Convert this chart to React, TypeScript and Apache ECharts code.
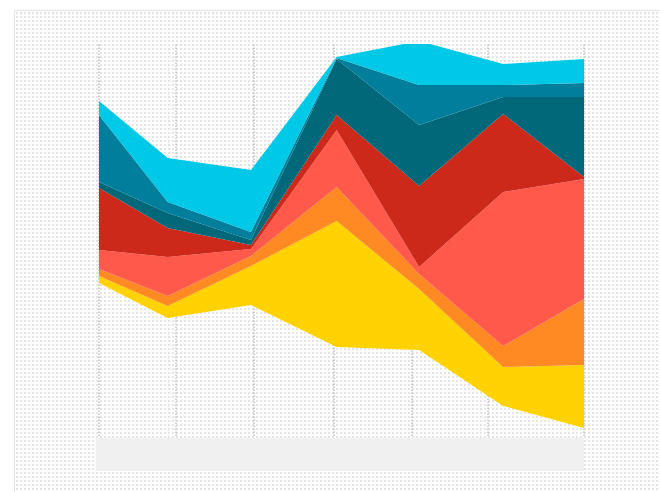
import React, { useEffect, useRef } from "react";
import * as echarts from "echarts";

// x positions of the vertices (axis units 0..6)
const xs = [0, 0.85, 1.88, 2.94, 3.96, 5.0, 6.0];
// vertical guide lines (axis units)
const guideX = [0, 0.95, 1.92, 2.91, 3.87, 4.81, 6];

// invisible baseline of the stream
const baseline = [153, 118, 131, 89, 86, 30, 8];
// layer thicknesses, bottom to top
const yellow = [7, 12, 39, 126, 61, 39, 63];
const orange = [7, 10, 10, 34, 15, 21, 66];
const salmon = [19, 39, 7, 57, 7, 154, 120];
const red = [62, 29, 4, 15, 81, 78, 2];
const darkTeal = [6, 15, 5, 56, 61, 17, 80];
const teal = [67, 11, 8, 1, 40, 12, 14];
const cyan = [14, 44, 62, 1, 44, 21, 24];

const layers: { name: string; values: number[]; color: string }[] = [
  { name: "yellow", values: yellow, color: "#FFD200" },
  { name: "orange", values: orange, color: "#FF8A23" },
  { name: "salmon", values: salmon, color: "#FF594C" },
  { name: "red", values: red, color: "#CC291A" },
  { name: "darkTeal", values: darkTeal, color: "#006878" },
  { name: "teal", values: teal, color: "#007E9B" },
  { name: "cyan", values: cyan, color: "#00C8E7" },
];

const dotBg =
  "url(\"data:image/svg+xml,%3Csvg xmlns='http://www.w3.org/2000/svg' width='4' height='4'%3E%3Crect x='1' y='1' width='2' height='2' fill='%23e4e4e4'/%3E%3C/svg%3E\")";

export default function App() {
  const ref = useRef<HTMLDivElement>(null);

  useEffect(() => {
    if (!ref.current) return;
    const chart = echarts.init(ref.current, null, { renderer: "svg" });
    // value first so that stacking happens on the y dimension
    const pairs = (arr: number[]) => arr.map((v, i) => [v, xs[i]]);

    const series: any[] = [
      {
        name: "base",
        type: "line",
        stack: "s",
        data: pairs(baseline),
        encode: { x: 1, y: 0 },
        symbol: "none",
        lineStyle: { opacity: 0, width: 0 },
        silent: true,
        z: 1,
        markLine: {
          z: 1,
          silent: true,
          symbol: "none",
          label: { show: false },
          lineStyle: { color: "#bdbdbd", width: 1.5, type: "dotted" },
          data: guideX.map((v) => ({ xAxis: v })),
        },
      },
      ...layers.map((l) => ({
        name: l.name,
        type: "line",
        stack: "s",
        data: pairs(l.values),
        encode: { x: 1, y: 0 },
        symbol: "none",
        lineStyle: { width: 0, opacity: 0 },
        areaStyle: { color: l.color, opacity: 1 },
        z: 3,
      })),
    ];

    chart.setOption({
      animation: false,
      backgroundColor: "transparent",
      grid: { left: 99, right: 76, top: 44, bottom: 56, containLabel: false },
      xAxis: {
        type: "value",
        min: 0,
        max: 6,
        axisLine: { show: false },
        axisTick: { show: false },
        axisLabel: { show: false },
        splitLine: { show: false },
      },
      yAxis: {
        type: "value",
        min: 0,
        max: 392,
        axisLine: { show: false },
        axisTick: { show: false },
        axisLabel: { show: false },
        splitLine: { show: false },
      },
      graphic: [
        {
          type: "rect",
          left: 96,
          top: 438,
          shape: { width: 488, height: 33 },
          style: { fill: "#f0f0f0" },
          z: 0,
        },
      ],
      series,
    });
    return () => chart.dispose();
  }, []);

  return (
    <div style={{ position: "fixed", left: 0, top: 0, width: 660, height: 492, background: "#fff" }}>
      <div
        style={{
          position: "absolute",
          left: 14,
          top: 10,
          right: 0,
          bottom: 0,
          borderLeft: "1px solid #e4e4e4",
          borderTop: "1px solid #e4e4e4",
          backgroundImage: dotBg,
          backgroundRepeat: "repeat",
        }}
      />
      <div ref={ref} style={{ position: "absolute", left: 0, top: 0, width: 660, height: 492 }} />
    </div>
  );
}
